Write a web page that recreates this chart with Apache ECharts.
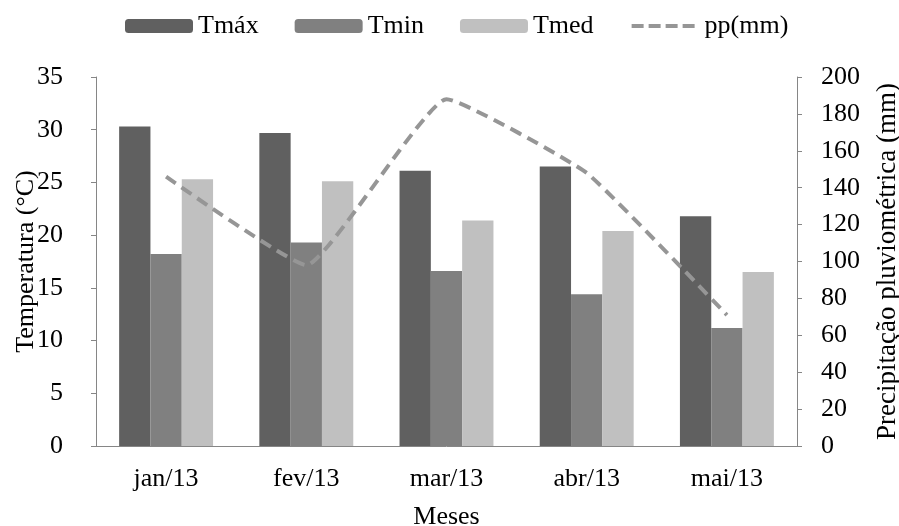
<!DOCTYPE html>
<html><head><meta charset="utf-8">
<script src="https://cdn.jsdelivr.net/npm/echarts@6/dist/echarts.min.js"></script>
<style>html,body{margin:0;padding:0;background:#fff}#c{width:899px;height:526px}</style>
</head><body><div id="c"></div>
<script>
var categories = ['jan/13','fev/13','mar/13','abr/13','mai/13'];
var tmax = [30.3, 29.7, 26.1, 26.5, 21.8];
var tmin = [18.2, 19.3, 16.6, 14.4, 11.2];
var tmed = [25.3, 25.1, 21.4, 20.4, 16.5];
var pp = [146, 98, 188, 148, 71];

var font = 'Liberation Serif';
var fs = 26;
var axisColor = '#868686';
var chart = echarts.init(document.getElementById('c'));
chart.setOption({
  animation: false,
  textStyle: {fontFamily: font},
  legend: {
    top: 13, left: 125, padding: 0, itemWidth: 68, itemHeight: 14, itemGap: 36,
    textStyle: {fontFamily: font, fontSize: fs, color: '#000'},
    data: ['Tmáx','Tmin','Tmed',{name: 'pp(mm)', itemStyle: {opacity: 0}, lineStyle: {width: 4, type: [12, 5], color: '#969696'}}]
  },
  grid: {left: 96, right: 102, top: 77, bottom: 80, containLabel: false, outerBoundsMode: 'none'},
  xAxis: {
    type: 'category', data: categories,
    name: 'Meses', nameLocation: 'middle', nameGap: 58, nameMoveOverlap: false,
    nameTextStyle: {fontFamily: font, fontSize: fs, color: '#000'},
    axisLine: {lineStyle: {color: axisColor, width: 1}},
    axisTick: {length: 6, lineStyle: {color: axisColor}},
    axisLabel: {fontFamily: font, fontSize: fs, color: '#000', margin: 20}
  },
  yAxis: [{
    type: 'value', min: 0, max: 35, interval: 5, position: 'left',
    name: 'Temperatura (°C)', nameLocation: 'middle', nameGap: 57, nameMoveOverlap: false,
    nameTextStyle: {fontFamily: font, fontSize: fs, color: '#000'},
    axisLine: {show: true, lineStyle: {color: axisColor}},
    axisTick: {show: true, length: 5, lineStyle: {color: axisColor}},
    axisLabel: {fontFamily: font, fontSize: fs, color: '#000', margin: 33},
    splitLine: {show: false}
  }, {
    type: 'value', min: 0, max: 200, interval: 20, position: 'right',
    name: 'Precipitação pluviométrica (mm)', nameLocation: 'middle', nameGap: 77, nameMoveOverlap: false,
    nameTextStyle: {fontFamily: font, fontSize: 27, color: '#000'},
    axisLine: {show: true, lineStyle: {color: axisColor}},
    axisTick: {show: true, length: 5, lineStyle: {color: axisColor}},
    axisLabel: {fontFamily: font, fontSize: fs, color: '#000', margin: 24},
    splitLine: {show: false}
  }],
  series: [
    {name: 'Tmáx', type: 'bar', data: tmax, barGap: '0%', barCategoryGap: '33%', itemStyle: {color: '#606060'}},
    {name: 'Tmin', type: 'bar', data: tmin, itemStyle: {color: '#808080'}},
    {name: 'Tmed', type: 'bar', data: tmed, itemStyle: {color: '#c0c0c0'}},
    {name: 'pp(mm)', type: 'line', yAxisIndex: 1, data: pp, smooth: 0.12, showSymbol: false, symbol: 'none',
     lineStyle: {color: '#969696', width: 4, type: [12, 7]}, itemStyle: {color: '#969696'}, z: 5}
  ]
});
</script></body></html>
